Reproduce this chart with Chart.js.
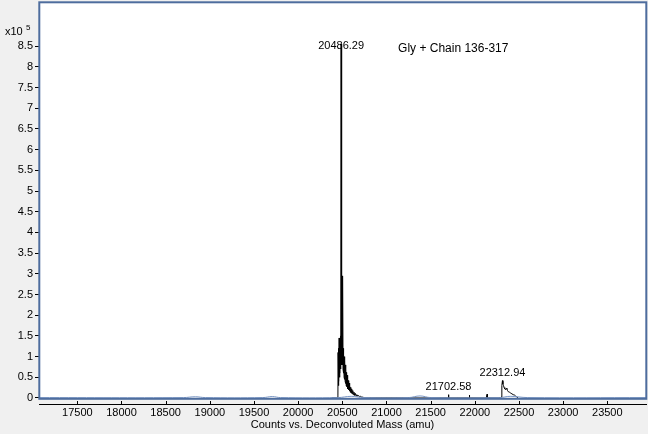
<!DOCTYPE html>
<html><head><meta charset="utf-8">
<script src="https://cdn.jsdelivr.net/npm/chart.js@4.4.0/dist/chart.umd.min.js"></script>
<style>html,body{margin:0;padding:0;background:#f0f0f0;}#wrap{width:648px;height:434px;}</style>
</head><body><div id="wrap"><canvas id="c" width="648" height="434"></canvas></div>
<script>
// ---- data (intensity in units of x10^5 counts) ----
const massTicks = [17500,18000,18500,19000,19500,20000,20500,21000,21500,22000,22500,23000,23500];
const intensityTicks = [0,0.5,1,1.5,2,2.5,3,3.5,4,4.5,5,5.5,6,6.5,7,7.5,8,8.5];

const spectrumMass = [
  20380,20440,20450,20452,20455,20458,20461,20464,20467,20470,20473,20476,20479,20482,20484,20486.29,
  20489,20492,20495,20498,20501,20505,20508,20511,20514,20517,20520,20523,20526,20529,20532,20535,
  20538,20541,20544,20547,20550,20553,20556,20560,20564,20568,20572,20576,20580,20585,20590,20595,
  20600,20606,20612,20618,20625,20632,20640,20648,20656,20665,20675,20685,20695,20708,20720,20735,20750,20800,
  21695,21700,21702.58,21705,21710,
  21930,21935,21937,21939,21944,
  22130,22135,22138,22141,22146,
  22290,22300,22306,22312.94,22318,22325,22332,22340,22348,22355,22362,22370,22380,22392,22405,22420,22435,22450,22462,22475,22490
];
const spectrumIntensity = [
  0,0,0.05,1.1,0.3,1.2,0.4,1.45,0.5,1.2,0.6,1.3,0.7,1.5,0.9,8.55,
  0.9,1.6,0.8,1.4,0.8,2.95,0.7,1.2,0.6,1.05,0.5,1.0,0.45,0.9,0.4,0.8,
  0.35,0.7,0.3,0.62,0.28,0.55,0.25,0.48,0.22,0.42,0.2,0.36,0.17,0.3,0.14,0.26,
  0.12,0.22,0.1,0.18,0.08,0.14,0.06,0.11,0.05,0.08,0.04,0.06,0.03,0.04,0.02,0.02,0,0,
  0,0,0.08,0,0,
  0,0,0.07,0,0,
  0,0,0.09,0,0,
  0,0.02,0.3,0.42,0.34,0.3,0.25,0.22,0.2,0.22,0.24,0.18,0.15,0.14,0.12,0.1,0.08,0.07,0.05,0.02,0
];

const baselineMass = [17066,18700,18836,18950,19600,19707,19800,20450,20600,20750,21250,21380,21500,22280,22400,22600,23938];
const baselineIntensity = [0.01,0.01,0.03,0.01,0.01,0.035,0.01,0.01,0.04,0.01,0.01,0.05,0.01,0.01,0.04,0.01,0.01];

const peakLabels = ['20486.29','21702.58','22312.94'];
const peakLabelMass = [20486.29,21702.58,22312.94];
const peakLabelIntensity = [8.5,0.27,0.61];

const annotationText = 'Gly + Chain 136-317';
const annotationMass = 21756;
const annotationIntensity = 8.45;

const xTitle = 'Counts vs. Deconvoluted Mass (amu)';
const yMultiplier = ['x10','5'];

// ---- build ----
const spectrum = spectrumMass.map((m,i)=>({x:m,y:spectrumIntensity[i]}));
const baseline = baselineMass.map((m,i)=>({x:m,y:baselineIntensity[i]}));
const FONT = 'Liberation Sans, Arial, sans-serif';

const decor = {
  id:'decor',
  beforeDraw(chart){
    const {ctx, chartArea:a} = chart;
    ctx.save();
    ctx.fillStyle = '#ffffff';
    ctx.fillRect(a.left, a.top, a.right-a.left, chart.scales.y.getPixelForValue(0)-a.top);
    ctx.restore();
  },
  afterDatasetsDraw(chart){
    const {ctx, chartArea:a, scales:{x,y}} = chart;
    ctx.save();
    // frame
    ctx.strokeStyle = '#4e6d9e';
    ctx.lineWidth = 2;
    const yb = y.getPixelForValue(0)+0.5;
    ctx.strokeRect(a.left+0.3, a.top+0.3, a.right-a.left, yb-a.top);
    // x tick marks (inward)
    ctx.strokeStyle = '#000';
    ctx.lineWidth = 1;
    massTicks.forEach(v=>{
      const px = Math.round(x.getPixelForValue(v))+0.5;
      ctx.beginPath(); ctx.moveTo(px, a.bottom-3); ctx.lineTo(px, a.bottom); ctx.stroke();
    });
    // peak labels
    ctx.fillStyle = '#000';
    ctx.font = '11px ' + FONT;
    ctx.textAlign = 'center'; ctx.textBaseline = 'middle';
    peakLabels.forEach((t,i)=>{
      ctx.fillText(t, x.getPixelForValue(peakLabelMass[i]), y.getPixelForValue(peakLabelIntensity[i]));
    });
    ctx.font = '12px ' + FONT;
    ctx.fillText(annotationText, x.getPixelForValue(annotationMass), y.getPixelForValue(annotationIntensity));
    // multiplier
    ctx.textAlign = 'left';
    ctx.font = '11px ' + FONT;
    ctx.fillText(yMultiplier[0], 5, 32);
    ctx.font = '8px ' + FONT;
    ctx.fillText(yMultiplier[1], 26, 28);
    ctx.restore();
  }
};

new Chart(document.getElementById('c'), {
  type:'scatter',
  data:{datasets:[
    {data:baseline, showLine:true, borderColor:'#7a96c4', borderWidth:1, pointRadius:0, tension:0.4},
    {data:spectrum, showLine:true, borderColor:'#000', borderWidth:1, pointRadius:0, tension:0}
  ]},
  options:{
    responsive:false, animation:false, devicePixelRatio:1,
    layout:{padding:{top:2,right:2,left:0,bottom:0}},
    plugins:{legend:{display:false}, tooltip:{enabled:false}},
    scales:{
      x:{
        type:'linear', min:17066, max:23938,
        afterBuildTicks(s){ s.ticks = massTicks.map(v=>({value:v})); },
        afterFit(s){ s.height = 30; s.paddingLeft = 0; s.paddingRight = 0; },
        grid:{display:false, drawTicks:false},
        border:{display:true, color:'#000', width:1},
        ticks:{color:'#000', font:{family:FONT, size:11}, padding:2, maxRotation:0, autoSkip:false,
               callback:v=>String(v)},
        title:{display:true, text:xTitle, color:'#000', font:{family:FONT, size:11}, padding:{top:0,bottom:2}}
      },
      y:{
        type:'linear', min:-0.145, max:9.566,
        afterBuildTicks(s){ s.ticks = intensityTicks.map(v=>({value:v})); },
        afterFit(s){ s.width = 39; s.paddingTop = 0; s.paddingBottom = 0; },
        grid:{display:true, drawOnChartArea:false, drawTicks:true, tickLength:4, color:'#000'},
        border:{display:false},
        ticks:{color:'#000', font:{family:FONT, size:11}, padding:2, autoSkip:false, callback:v=>String(v)}
      }
    }
  },
  plugins:[decor]
});
</script></body></html>
